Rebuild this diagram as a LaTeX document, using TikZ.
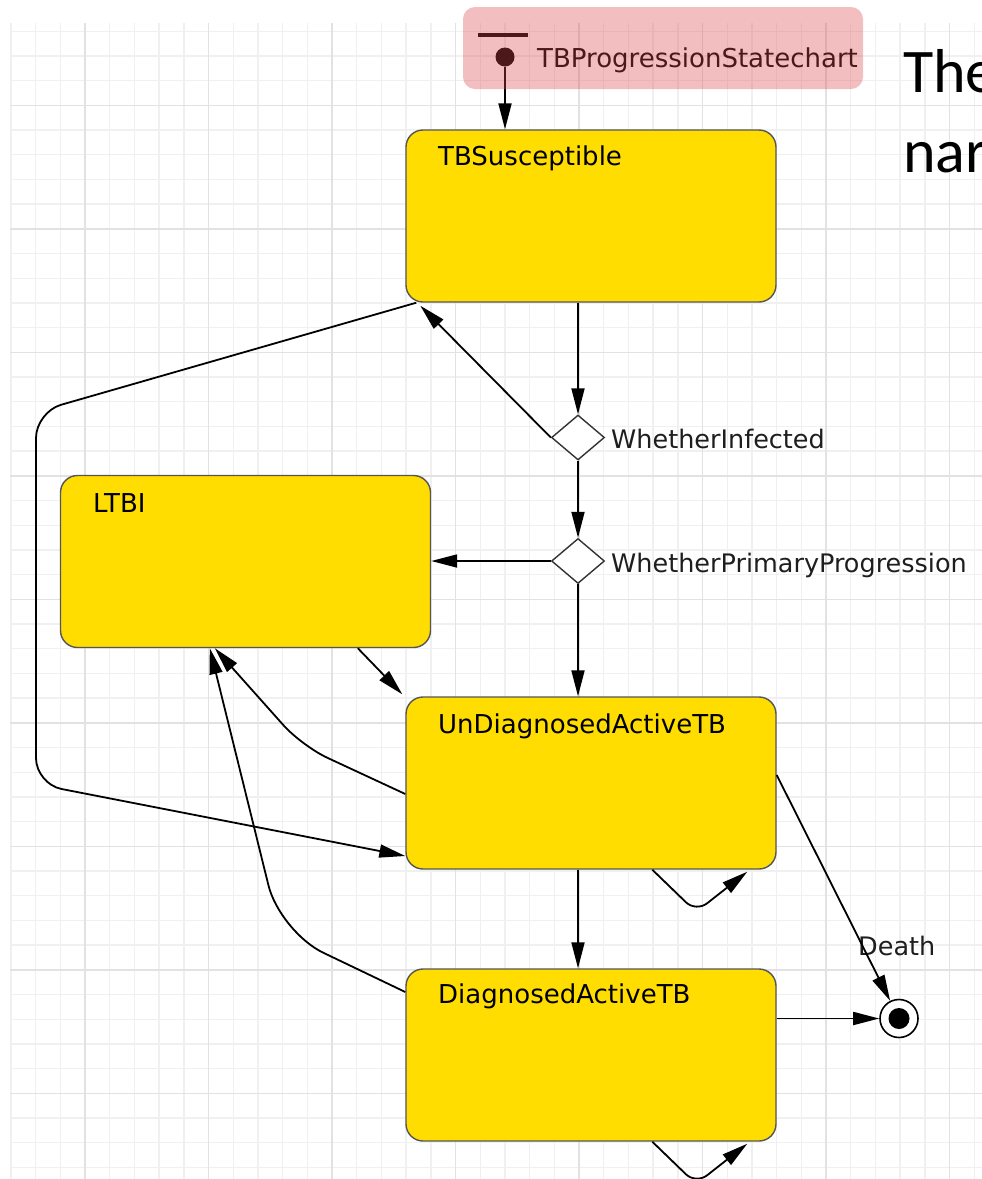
\documentclass[tikz,border=0pt]{standalone}
\usepackage{fontspec}
\setmainfont{DejaVu Sans}
\newfontfamily\slidefont{Carlito}
\usetikzlibrary{arrows.meta,shapes.geometric,calc}

\definecolor{stategold}{RGB}{255,221,0}
\definecolor{stateedge}{RGB}{85,85,85}
\definecolor{gridminor}{RGB}{240,240,240}
\definecolor{gridmajor}{RGB}{226,226,226}
\definecolor{hilite}{RGB}{218,69,75}
\definecolor{labelink}{RGB}{30,30,30}

\begin{document}
\begin{tikzpicture}[x=1pt,y=-1pt,
  state/.style={draw=stateedge, line width=1.4pt, fill=stategold,
    rounded corners=17pt, minimum width=370pt, minimum height=172pt,
    inner sep=0pt},
  statename/.style={anchor=base west, inner sep=0pt,
    font=\fontsize{26}{30}\selectfont},
  choice/.style={diamond, draw=black!80, line width=1.4pt, fill=white,
    minimum width=53pt, minimum height=45pt, inner sep=0pt},
  tlabel/.style={anchor=base west, inner sep=0pt, text=labelink,
    font=\fontsize{25.5}{30}\selectfont},
  trans/.style={draw=black, line width=1.8pt,
    -{Triangle[length=26pt,width=13pt]}},
  initdot/.style={circle, fill=black, minimum size=19pt, inner sep=0pt},
  initbar/.style={rectangle, fill=black, minimum width=50pt,
    minimum height=4pt, inner sep=0pt},
  finalring/.style={circle, draw=black, line width=1.6pt, fill=white,
    minimum size=38pt, inner sep=0pt},
  finaldot/.style={circle, fill=black, minimum size=21pt, inner sep=0pt},
  slide/.style={anchor=base west, inner sep=0pt, text=black,
    font=\slidefont\fontsize{62}{74}\selectfont},
  gridfine/.style={draw=gridminor, line width=1.4pt},
  gridbold/.style={draw=gridmajor, line width=1.6pt}
]
\path[use as bounding box] (0,0) rectangle (982,1179);
\clip (0,0) rectangle (982,1179);

% drawing canvas grid
\begin{scope}
  \clip (10,23) rectangle (982,1179);
  \foreach \i in {0,...,39}
    \draw[gridfine] ({10.9+\i*24.7},23) -- ({10.9+\i*24.7},1179);
  \foreach \i in {0,...,46}
    \draw[gridfine] (10,{31.2+\i*24.7}) -- (982,{31.2+\i*24.7});
  \foreach \i in {0,...,7}
    \draw[gridbold] ({85+\i*123.5},23) -- ({85+\i*123.5},1179);
  \foreach \i in {0,...,8}
    \draw[gridbold] (10,{105.3+\i*123.5}) -- (982,{105.3+\i*123.5});
\end{scope}

% states
\node[state] (sus)  at (591,216)     {};
\node[state] (ltbi) at (245.5,561.5) {};
\node[state] (und)  at (591,783)     {};
\node[state] (diag) at (591,1055)    {};
\node[statename] (susname)  at (438,165)  {TBSusceptible};
\node[statename] (ltbiname) at (93,512)   {LTBI};
\node[statename] (undname)  at (438,733)  {UnDiagnosedActiveTB};
\node[statename] (diagname) at (438,1003) {DiagnosedActiveTB};

% branches
\node[choice] (wi)  at (578,437.5) {};
\node[choice] (wpp) at (578,561)   {};
\node[tlabel] (wilabel)  at (611,448) {WhetherInfected};
\node[tlabel] (wpplabel) at (611,572) {WhetherPrimaryProgression};

% final state
\node[finalring] (fin) at (899,1018.5) {};
\node[finaldot] (findot) at (fin) {};
\node[tlabel] (deathlabel) at (858,955) {Death};

% statechart entry point
\node[initbar] (entrybar) at (503,34.5) {};
\node[initdot] (init) at (505,57) {};
\node[anchor=base west, inner sep=0pt, text=black,
  font=\fontsize{26}{30}\selectfont] (chartname) at (537,67)
  {TBProgressionStatechart};
\draw[trans] (init.south) -- (init |- sus.north);

% bend points of the routed transitions
\coordinate (loopTop) at (36,412);
\coordinate (loopBot) at (36,784);
\coordinate (undBack) at (302,746);
\coordinate (diagBack) at (280,932);
\coordinate (undSelf) at (696,912);
\coordinate (diagSelf) at (696,1184);

% transitions
\draw[trans] (wi |- sus.south) -- (wi.north);
\draw[trans] (wi.west) -- ($(sus.south west)+(15,3)$);
\draw[trans, rounded corners=26pt] ($(sus.south west)+(11,0)$)
  -- (loopTop) -- (loopBot) -- ($(und.west)+(0,73)$);
\draw[trans] (wi.south) -- (wpp.north);
\draw[trans] (wpp.west) -- (wpp.west -| ltbi.east);
\draw[trans] (wpp.south) -- (wpp |- und.north);
\draw[trans] ($(ltbi.south west)+(298,0)$) -- ($(und.north west)+(-3,-2)$);
\draw[trans, rounded corners=28pt] ($(und.west)+(0,11)$)
  -- (undBack) -- ($(ltbi.south west)+(155,0)$);
\draw[trans, rounded corners=48pt] ($(diag.west)+(0,-63)$)
  -- (diagBack) -- ($(ltbi.south west)+(150,0)$);
\draw[trans, rounded corners=14pt] ($(und.south west)+(247,0)$)
  -- (undSelf) -- ($(und.south west)+(342,2)$);
\draw[trans, rounded corners=14pt] ($(diag.south west)+(247,0)$)
  -- (diagSelf) -- ($(diag.south west)+(342,2)$);
\draw[trans] (wpp |- und.south) -- (wpp |- diag.north);
\draw[trans] ($(und.east)+(0,-8)$) -- (fin);
\draw[trans] (fin.west -| diag.east) -- (fin.west);

% highlight over the statechart name
\fill[hilite, fill opacity=0.35, rounded corners=12pt] (463,7) rectangle (863,89);

% slide text running past the edge
\node[slide] (slideA) at (903,92)  {The};
\node[slide] (slideB) at (903,172) {nar};
\end{tikzpicture}
\end{document}
